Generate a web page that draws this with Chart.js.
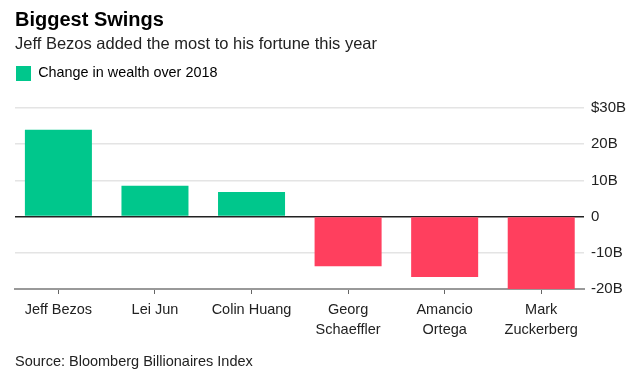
<!DOCTYPE html>
<html>
<head>
<meta charset="utf-8">
<script src="https://cdn.jsdelivr.net/npm/chart.js@4.4.1/dist/chart.umd.min.js"></script>
<style>
  html, body { margin: 0; padding: 0; background: #fff; }
  #wrap { position: relative; width: 644px; height: 378px; overflow: hidden; font-family: "Liberation Sans", Arial, sans-serif; }
  #chart { position: absolute; left: 0; top: 0; width: 644px; height: 378px; }
  .txt { position: absolute; left: 15px; white-space: nowrap; color: #111; }
  #title { top: 9px; font-size: 20px; line-height: 20px; font-weight: bold; color: #000; }
  #subtitle { top: 35px; font-size: 16.5px; line-height: 16.5px; color: #222; }
  #source { top: 354px; font-size: 14.5px; line-height: 15px; color: #222; }
</style>
</head>
<body>
<div id="wrap">
  <canvas id="chart" width="644" height="378"></canvas>
  <div id="title" class="txt">Biggest Swings</div>
  <div id="subtitle" class="txt">Jeff Bezos added the most to his fortune this year</div>
  <div id="source" class="txt">Source: Bloomberg Billionaires Index</div>
</div>
<script>
// ---- data ----
const categories = ['Jeff Bezos', 'Lei Jun', 'Colin Huang', ['Georg', 'Schaeffler'], ['Amancio', 'Ortega'], ['Mark', 'Zuckerberg']];
const wealthChange = [24, 8.5, 6.8, -13.7, -16.7, -20];
const seriesName = 'Change in wealth over 2018';
const yTicks = [-20, -10, 0, 10, 20, 30];

const GREEN = '#00C78C';
const RED = '#FF3F5E';

function tickLabel(v) {
  if (v === 0) return '0';
  if (v === 30) return '$30B';
  return v + 'B';
}

const ctx = document.getElementById('chart').getContext('2d');
new Chart(ctx, {
  type: 'bar',
  data: {
    datasets: [{
      label: seriesName,
      data: wealthChange.map((v, i) => ({ x: i, y: v })),
      backgroundColor: wealthChange.map(v => v >= 0 ? GREEN : RED),
      borderWidth: 0,
      barPercentage: 0.694,
      categoryPercentage: 1
    }]
  },
  options: {
    responsive: false,
    animation: false,
    devicePixelRatio: 1,
    layout: { padding: { left: 15, right: 0, top: 65, bottom: 0 } },
    plugins: {
      legend: {
        display: true,
        position: 'top',
        align: 'start',
        labels: {
          boxWidth: 15,
          boxHeight: 15,
          padding: 1,
          color: '#222',
          font: { family: '"Liberation Sans", Arial, sans-serif', size: 14.4 },
          generateLabels: () => [{
            text: seriesName,
            fillStyle: GREEN,
            strokeStyle: GREEN,
            lineWidth: 0,
            hidden: false,
            datasetIndex: 0
          }]
        }
      },
      title: {
        display: true,
        text: '',
        weight: 500,
        font: { size: 10, lineHeight: 1 },
        padding: { top: 7, bottom: 0 }
      },
      tooltip: { enabled: false }
    },
    scales: {
      x: {
        type: 'linear',
        min: -0.4495,
        max: 5.443,
        offset: false,
        afterBuildTicks: (scale) => { scale.ticks = categories.map((_, i) => ({ value: i })); },
        afterFit: (scale) => { scale.height = 89; },
        grid: {
          offset: false,
          drawOnChartArea: false,
          drawTicks: true,
          tickLength: 5,
          color: '#666',
          lineWidth: 1
        },
        border: { display: true, color: '#999', width: 2 },
        ticks: {
          autoSkip: false,
          maxRotation: 0,
          padding: 6,
          color: '#222',
          font: { family: '"Liberation Sans", Arial, sans-serif', size: 14.5, lineHeight: 1.38 },
          callback: (v) => categories[v]
        }
      },
      y: {
        position: 'right',
        min: -20,
        max: 30,
        afterBuildTicks: (scale) => { scale.ticks = yTicks.map(v => ({ value: v })); },
        afterFit: (scale) => { scale.width = 60; },
        grid: {
          drawTicks: false,
          color: (c) => c.tick.value === 0 ? '#222' : (c.tick.value === -20 ? 'rgba(0,0,0,0)' : '#e4e4e4'),
          lineWidth: 1.5
        },
        border: { display: false },
        ticks: {
          padding: 7,
          color: '#222',
          font: { family: '"Liberation Sans", Arial, sans-serif', size: 15 },
          callback: (v) => tickLabel(v)
        }
      }
    }
  }
});
</script>
</body>
</html>
